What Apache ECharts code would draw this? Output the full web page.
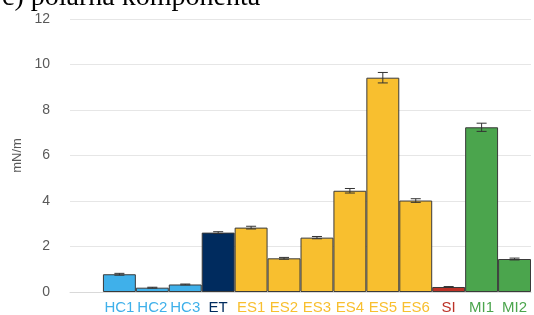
<!DOCTYPE html>
<html>
<head>
<meta charset="utf-8">
<script src="https://cdn.jsdelivr.net/npm/echarts@6/dist/echarts.min.js"></script>
<style>
  html, body { margin: 0; padding: 0; background: #fff; }
  #chart { width: 534px; height: 315px; }
</style>
</head>
<body>
<div id="chart"></div>
<script>
// categories (first one empty, as in the original plot)
var categories = ['', 'HC1', 'HC2', 'HC3', 'ET', 'ES1', 'ES2', 'ES3', 'ES4', 'ES5', 'ES6', 'SI', 'MI1', 'MI2'];
// polar component, mN/m
var values = [null, 0.78, 0.19, 0.33, 2.61, 2.83, 1.48, 2.39, 4.45, 9.42, 4.02, 0.22, 7.24, 1.45];
var errors = [null, 0.04, 0.02, 0.02, 0.04, 0.06, 0.04, 0.05, 0.1, 0.23, 0.08, 0.02, 0.18, 0.04];
var groupColors = {
    HC: '#3fb0ea',
    ET: '#002b5e',
    ES: '#f8bf2f',
    SI: '#bc3227',
    MI: '#4ba54d'
};
var yTicks = [0, 2, 4, 6, 8, 10, 12];

var colorOf = function (name) {
    return groupColors[name.slice(0, 2)] || '#000';
};

var myChart = echarts.init(document.getElementById('chart'));

var barData = values.map(function (v, i) {
    if (v === null) return null;
    return {
        value: v,
        itemStyle: { color: colorOf(categories[i]) }
    };
});

var errData = [];
values.forEach(function (v, i) {
    if (v !== null) errData.push([i, v - errors[i], v + errors[i]]);
});

var option = {
    animation: false,
    title: {
        text: 'c) polarna komponenta',
        left: -3,
        top: -21,
        textStyle: {
            fontFamily: 'Liberation Serif',
            fontSize: 28,
            fontWeight: 'normal',
            color: '#000'
        }
    },
    grid: {
        left: 70,
        width: 461,
        top: 19,
        bottom: 21
    },
    xAxis: {
        type: 'category',
        data: categories,
        axisTick: { show: false },
        axisLine: { lineStyle: { color: '#d9d9d9' } },
        axisLabel: {
            interval: 0,
            margin: 8,
            fontFamily: 'Liberation Sans',
            fontSize: 15,
            color: function (val) { return colorOf(val); }
        }
    },
    yAxis: {
        type: 'value',
        min: yTicks[0],
        max: yTicks[yTicks.length - 1],
        interval: 2,
        name: 'mN/m',
        nameLocation: 'middle',
        nameGap: 46,
        nameTextStyle: { color: '#595959', fontFamily: 'Liberation Sans', fontSize: 13 },
        axisLine: { show: false },
        axisTick: { show: false },
        axisLabel: {
            margin: 20,
            color: '#595959',
            fontFamily: 'Liberation Sans',
            fontSize: 14
        },
        splitLine: { lineStyle: { color: '#e6e6e6' } }
    },
    series: [
        {
            type: 'bar',
            data: barData,
            barWidth: '100%',
            itemStyle: { borderColor: '#3a3a3a', borderWidth: 1 }
        },
        {
            type: 'custom',
            data: errData,
            z: 10,
            renderItem: function (params, api) {
                var x = api.value(0);
                var lo = api.coord([x, api.value(1)]);
                var hi = api.coord([x, api.value(2)]);
                var w = 5;
                var st = { stroke: '#333', lineWidth: 1 };
                return {
                    type: 'group',
                    children: [
                        { type: 'line', shape: { x1: lo[0], y1: lo[1], x2: hi[0], y2: hi[1] }, style: st },
                        { type: 'line', shape: { x1: lo[0] - w, y1: lo[1], x2: lo[0] + w, y2: lo[1] }, style: st },
                        { type: 'line', shape: { x1: hi[0] - w, y1: hi[1], x2: hi[0] + w, y2: hi[1] }, style: st }
                    ]
                };
            }
        }
    ]
};

option && myChart.setOption(option);
</script>
</body>
</html>
